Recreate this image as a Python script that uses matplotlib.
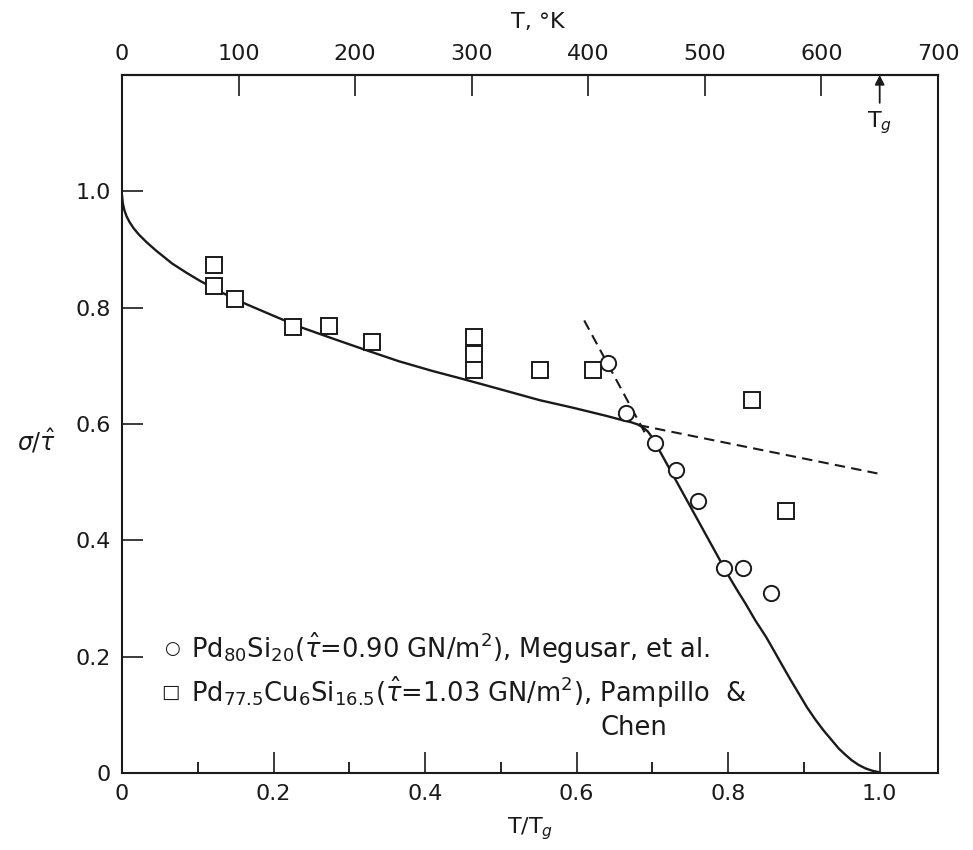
import matplotlib
matplotlib.use("Agg")
import matplotlib.pyplot as plt

plt.rcParams['font.family'] = ['DejaVu Sans']
plt.rcParams['mathtext.fontset'] = 'dejavusans'

# ---- data ----
Tg = 650.0  # K

# Pd80Si20 (circles), Megusar et al.
circ_x = [0.642, 0.665, 0.703, 0.731, 0.760, 0.795, 0.820, 0.856]
circ_y = [0.704, 0.619, 0.567, 0.521, 0.468, 0.352, 0.353, 0.309]

# Pd77.5Cu6Si16.5 (squares), Pampillo & Chen
sq_x = [0.122, 0.122, 0.149, 0.226, 0.273, 0.330, 0.464, 0.464, 0.464, 0.552, 0.621, 0.832, 0.877]
sq_y = [0.873, 0.837, 0.815, 0.767, 0.768, 0.741, 0.750, 0.720, 0.693, 0.693, 0.693, 0.641, 0.450]

# theoretical solid curve
curve_x = [0.0, 0.001, 0.003, 0.006, 0.010, 0.015, 0.022, 0.032, 0.045, 0.066, 0.085,
           0.103, 0.130, 0.164, 0.200, 0.2345, 0.280, 0.322, 0.365,
           0.410, 0.445, 0.476, 0.515, 0.551, 0.595, 0.639, 0.6605, 0.672, 0.681,
           0.688, 0.694, 0.699, 0.704,
           0.795, 0.801, 0.812, 0.823, 0.836, 0.850, 0.861, 0.871, 0.882, 0.893,
           0.904, 0.915, 0.926, 0.937, 0.946, 0.955, 0.963, 0.972, 0.981, 0.990, 1.0]
curve_y = [0.993, 0.980, 0.968, 0.957, 0.947, 0.937, 0.926, 0.913, 0.898, 0.876, 0.860,
           0.846, 0.827, 0.806, 0.786, 0.767, 0.746, 0.727, 0.708,
           0.691, 0.679, 0.668, 0.654, 0.641, 0.628, 0.614, 0.6065, 0.603, 0.599,
           0.594, 0.587, 0.578, 0.567,
           0.352, 0.338, 0.314, 0.291, 0.262, 0.234, 0.209, 0.186, 0.161, 0.137,
           0.113, 0.092, 0.073, 0.056, 0.042, 0.031, 0.022, 0.014, 0.008, 0.004, 0.001]

# dashed extrapolations
dash_steep_x = [0.610, 0.690]
dash_steep_y = [0.778, 0.585]
dash_flat_x = [0.682, 0.997]
dash_flat_y = [0.598, 0.515]

x_ticks = [0, 0.2, 0.4, 0.6, 0.8, 1.0]
x_ticklabels = ['0', '0.2', '0.4', '0.6', '0.8', '1.0']
x_minor = [0.1, 0.3, 0.5, 0.7, 0.9]
y_ticks = [0, 0.2, 0.4, 0.6, 0.8, 1.0]
y_ticklabels = ['0', '0.2', '0.4', '0.6', '0.8', '1.0']
T_ticks = [0, 100, 200, 300, 400, 500, 600, 700]

legend1 = r"Pd$_{80}$Si$_{20}$($\hat{\tau}$=0.90 GN/m$^2$), Megusar, et al."
legend2 = r"Pd$_{77.5}$Cu$_6$Si$_{16.5}$($\hat{\tau}$=1.03 GN/m$^2$), Pampillo  &"
legend3 = "Chen"

# ---- figure ----
fig = plt.figure(figsize=(9.73, 8.5), dpi=100)
ax = fig.add_axes([0.1254, 0.0906, 0.8386, 0.8212])
ax.set_xlim(0, 700.0 / Tg)
ax.set_ylim(0, 1.2)

ink = '#1a1a1a'
ax.plot(curve_x, curve_y, color=ink, lw=1.7, solid_joinstyle='round',
        solid_capstyle='round', zorder=2)
ax.plot(dash_steep_x, dash_steep_y, color=ink, lw=1.5, dashes=(5, 3), zorder=2)
ax.plot(dash_flat_x, dash_flat_y, color=ink, lw=1.5, dashes=(5, 3), zorder=2)

ax.plot(sq_x, sq_y, linestyle='none', marker='s', ms=11, mfc='white',
        mec=ink, mew=1.4, zorder=3)
ax.plot(circ_x, circ_y, linestyle='none', marker='o', ms=11, mfc='white',
        mec=ink, mew=1.4, zorder=3)

for s in ax.spines.values():
    s.set_linewidth(1.5)
    s.set_color(ink)

ax.set_xticks(x_ticks)
ax.set_xticklabels(x_ticklabels)
ax.set_xticks(x_minor, minor=True)
ax.set_yticks(y_ticks)
ax.set_yticklabels(y_ticklabels)
ax.tick_params(axis='x', which='major', direction='in', length=15, width=1.2,
               labelsize=16, pad=8, colors=ink)
ax.tick_params(axis='x', which='minor', direction='in', length=8, width=1.2)
ax.tick_params(axis='y', which='major', direction='in', length=15, width=1.2,
               labelsize=16, pad=8, colors=ink)

ax.set_xlabel(r"T/T$_g$", fontsize=16, labelpad=8, color=ink)
ax.set_ylabel(r"$\sigma$/$\hat{\tau}$", fontsize=17, rotation=0, labelpad=22,
              color=ink)
ax.yaxis.set_label_coords(-0.105, 0.455)

top = ax.secondary_xaxis('top', functions=(lambda x: x * Tg, lambda t: t / Tg))
top.set_xticks(T_ticks)
top.set_xticklabels([str(t) for t in T_ticks])
top.tick_params(direction='in', length=15, width=1.2, labelsize=16, pad=8,
                colors=ink)
top.spines['top'].set_linewidth(1.5)
fig.text(538 / 973, 1 - 22 / 850, "T, °K", ha='center', va='center',
         fontsize=16, color=ink)

# Tg arrow
ax.annotate('', xy=(1.0, 1.2), xytext=(1.0, 1.152),
            arrowprops=dict(arrowstyle='-|>', color=ink, lw=1.3,
                            mutation_scale=14, shrinkA=0, shrinkB=0))
ax.text(1.0, 1.118, r"T$_g$", ha='center', va='center', fontsize=16, color=ink)

# legend (text block)
ax.text(0.066, 0.214, "\u25CB", ha='center', va='center', fontsize=13, color=ink)
ax.text(0.091, 0.214, legend1, ha='left', va='center', fontsize=18.5, color=ink)
ax.text(0.064, 0.139, "\u25A1", ha='center', va='center', fontsize=14, color=ink)
ax.text(0.091, 0.139, legend2, ha='left', va='center', fontsize=18.5, color=ink)
ax.text(0.632, 0.077, legend3, ha='left', va='center', fontsize=18.5, color=ink)

fig.savefig("out.png", dpi=100)
